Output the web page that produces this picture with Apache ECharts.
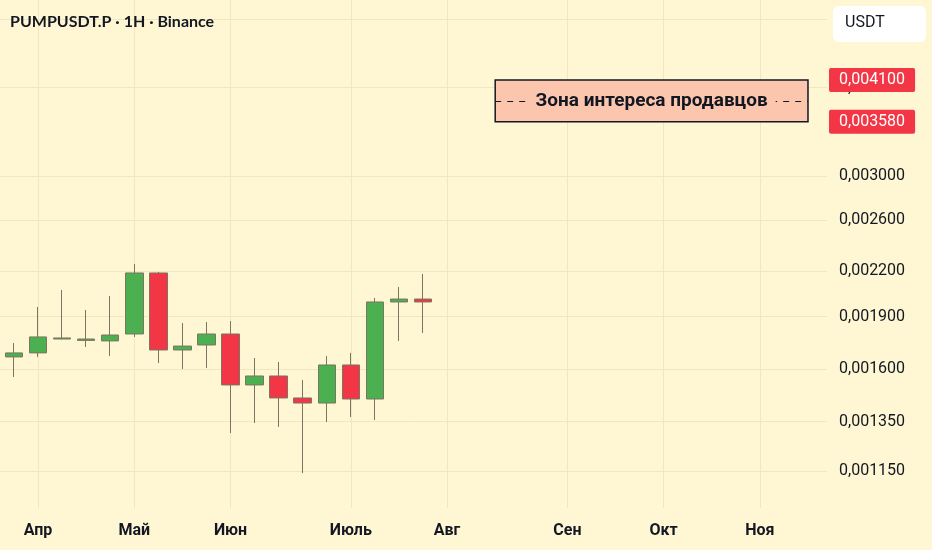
<!DOCTYPE html>
<html><head><meta charset="utf-8">
<script src="https://cdn.jsdelivr.net/npm/echarts@6/dist/echarts.min.js"></script>
<style>html,body{margin:0;padding:0;background:#FFF7D4;}#c{width:932px;height:550px;}</style>
</head><body><div id="c"></div>
<script>
// weekly candles, index 0..17
const weekIndex = [0,1,2,3,4,5,6,7,8,9,10,11,12,13,14,15,16,17];
const openP  = [0.001666,0.001688,0.001766,0.001758,0.001755,0.001795,0.002189,0.001704,0.001732,0.001795,0.001521,0.001566,0.001458,0.001434,0.001623,0.001453,0.001992,0.002011];
const closeP = [0.001688,0.001778,0.001772,0.001766,0.001789,0.002189,0.001704,0.001726,0.001795,0.001521,0.001566,0.001458,0.001434,0.001623,0.001453,0.001992,0.002011,0.001992];
const lowP   = [0.001561,0.001666,0.001763,0.001721,0.001671,0.001778,0.001633,0.001602,0.001607,0.001301,0.001344,0.001327,0.001142,0.001348,0.001370,0.001357,0.001755,0.001801];
const highP  = [0.001743,0.001960,0.002071,0.001941,0.002031,0.002254,0.002196,0.001860,0.001866,0.001872,0.001660,0.001639,0.001546,0.001671,0.001688,0.002018,0.002091,0.002182];

const monthIdx = [1,5,9,14,18,23,27,31];
const monthNames = ['Апр','Май','Июн','Июль','Авг','Сен','Окт','Ноя'];

const priceTicks = [0.0050,0.0040,0.0030,0.0026,0.0022,0.0019,0.0016,0.00135,0.00115];
const tagPrices = [0.0041,0.00358];
const zoneX = [20,33];
const zoneY = [0.00358,0.0041];
const zoneText = 'Зона интереса продавцов';
const titleText = 'PUMPUSDT.P · 1H · Binance';
const currency = 'USDT';

const xMin = -0.58, xMax = 33.79;
const fmt = v => v.toFixed(6).replace('.', ',');
const candleData = weekIndex.map((w,i)=>[w, openP[i], closeP[i], lowP[i], highP[i]]);
const gridColor = '#F0E6C0';
const textColor = '#131722';
const zoneMid = Math.sqrt(zoneY[0]*zoneY[1]);
const hLine = (v, x0) => [{coord: [x0, v], value: v}, {coord: [xMax, v], value: v}];

const chart = echarts.init(document.getElementById('c'));
chart.setOption({
  backgroundColor: '#FFF7D4',
  animation: false,
  grid: {left: 0, right: 105, top: 0, bottom: 42},
  xAxis: {
    type: 'value', min: xMin, max: xMax,
    axisLine: {show: false}, axisTick: {show: false}, splitLine: {show: false},
    axisLabel: {
      customValues: monthIdx,
      formatter: v => { const k = monthIdx.indexOf(Math.round(v)); return k >= 0 ? monthNames[k] : ''; },
      color: textColor, fontSize: 16, fontWeight: 'bold',
      fontFamily: "Roboto, sans-serif", margin: 15
    }
  },
  yAxis: {
    type: 'log', min: 0.0010195, max: 0.0053166,
    axisLine: {show: false}, axisTick: {show: false}, splitLine: {show: false}, axisLabel: {show: false}
  },
  series: [
    {
      type: 'line', data: [], silent: true, z: 0,
      markLine: {
        silent: true, symbol: ['none','none'], animation: false, z: 0,
        lineStyle: {color: gridColor, width: 1, type: 'solid'},
        label: {show: false},
        data: monthIdx.map(i => ({xAxis: i}))
      }
    },
    {
      type: 'line', data: [], silent: true, z: 0,
      markLine: {
        silent: true, symbol: ['none','none'], animation: false, z: 0,
        lineStyle: {color: gridColor, width: 1, type: 'solid'},
        label: {show: true, position: 'end', distance: 12, color: textColor, fontSize: 16, fontFamily: 'Roboto',
                formatter: p => fmt(p.value)},
        data: priceTicks.map(v => {
          const l = hLine(v, xMin);
          if (v === 0.005) { l[0].label = {show: false}; l[1].label = {show: false}; }
          return l;
        })
      }
    },
    {
      type: 'candlestick', z: 3,
      encode: {x: 0, y: [1,2,3,4]},
      data: candleData,
      barWidth: 18,
      itemStyle: {color: '#4CAF50', color0: '#F23645', borderColor: '#7A7661', borderColor0: '#7A7661', borderWidth: 1},
      markArea: {
        silent: true, z: 2,
        itemStyle: {color: '#FCC6AE', borderColor: textColor, borderWidth: 1.5},
        data: [[{coord: [zoneX[0], zoneY[1]]}, {coord: [zoneX[1], zoneY[0]]}]]
      },
      markLine: {
        silent: true, symbol: ['none','none'], animation: false, z: 4,
        lineStyle: {color: textColor, width: 1, type: [6,6]},
        label: {show: true, position: 'insideMiddle', formatter: zoneText, color: textColor, fontSize: 19, fontWeight: 'bold',
                fontFamily: 'Roboto', backgroundColor: '#FCC6AE', padding: [2,8]},
        data: [[{coord: [zoneX[0], zoneMid]}, {coord: [zoneX[1], zoneMid]}]]
      }
    },
    {
      type: 'line', data: [], silent: true, z: 10,
      markLine: {
        silent: true, symbol: ['none','none'], animation: false, z: 10,
        lineStyle: {color: 'rgba(0,0,0,0)', width: 0},
        label: {show: true, position: 'end', distance: 2, color: '#ffffff', fontSize: 16, fontFamily: 'Roboto',
                backgroundColor: '#F23645', padding: [4,10,4,10], lineHeight: 16, borderRadius: 2,
                formatter: p => fmt(p.value)},
        data: tagPrices.map(v => hLine(v, xMax - 0.5))
      }
    }
  ],
  graphic: [
    {type: 'text', left: 10, top: 14, z: 100,
     style: {text: titleText, fill: textColor, fontSize: 16, fontWeight: 'bold', fontFamily: "Lato, sans-serif"}},
    {type: 'rect', left: 833, top: 6, z: 100, shape: {width: 93, height: 36, r: 6}, style: {fill: '#ffffff'}},
    {type: 'text', left: 845, top: 15, z: 101, style: {text: currency, fill: textColor, fontSize: 16, fontFamily: 'Roboto'}}
  ]
});
</script></body></html>
